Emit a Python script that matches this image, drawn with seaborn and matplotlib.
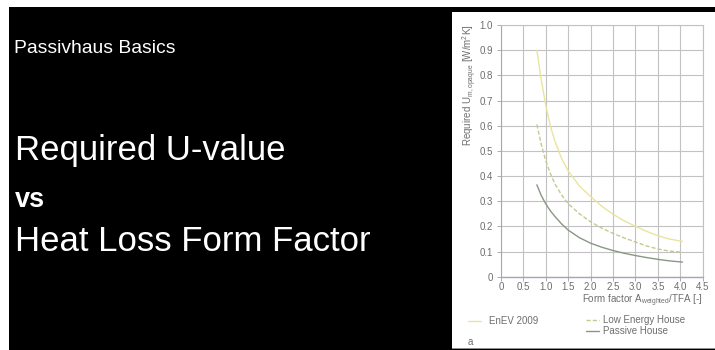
import matplotlib
matplotlib.use("Agg")
import matplotlib.pyplot as plt
import numpy as np
import pandas as pd
import seaborn as sns
from matplotlib.patches import Rectangle

# Required U-value of the opaque envelope against the heat loss form factor
form_factor = [0.8, 0.9, 1.0, 1.1, 1.2, 1.35, 1.5, 1.75, 2.0, 2.25, 2.5, 2.75, 3.0, 3.25, 3.5, 3.75, 4.05]
u_enev = [0.90, 0.78, 0.68, 0.60, 0.54, 0.47, 0.42, 0.36, 0.318, 0.28, 0.248, 0.222, 0.200, 0.180, 0.163, 0.150, 0.140]
u_low_energy = [0.605, 0.525, 0.46, 0.41, 0.37, 0.325, 0.29, 0.25, 0.218, 0.193, 0.172, 0.154, 0.138, 0.122, 0.110, 0.102, 0.097]
u_passive = [0.365, 0.322, 0.289, 0.262, 0.24, 0.21, 0.185, 0.155, 0.133, 0.117, 0.104, 0.093, 0.084, 0.076, 0.069, 0.063, 0.058]
series_names = ["EnEV 2009", "Low Energy House", "Passive House"]

x_ticks = [0, 0.5, 1.0, 1.5, 2.0, 2.5, 3.0, 3.5, 4.0, 4.5]
x_tick_labels = ["0", "0.5", "1.0", "1.5", "2.0", "2.5", "3.0", "3.5", "4.0", "4.5"]
y_ticks = [0, 0.1, 0.2, 0.3, 0.4, 0.5, 0.6, 0.7, 0.8, 0.9, 1.0]
y_tick_labels = ["0", "0.1", "0.2", "0.3", "0.4", "0.5", "0.6", "0.7", "0.8", "0.9", "1.0"]

df = pd.DataFrame({
    "form_factor": form_factor * 3,
    "u_value": u_enev + u_low_energy + u_passive,
    "standard": [series_names[0]] * len(form_factor)
    + [series_names[1]] * len(form_factor)
    + [series_names[2]] * len(form_factor),
})

sns.set_style("white")
plt.rcParams["font.family"] = ["Liberation Sans", "DejaVu Sans"]
plt.rcParams["mathtext.default"] = "regular"

W, H = 715, 350
fig = plt.figure(figsize=(W / 100, H / 100), dpi=100)
fig.patch.set_facecolor("white")


def fx(px):
    return px / W


def fy(py):
    return 1 - py / H


# slide background and the white figure panel
fig.patches.append(Rectangle((fx(9), 0), 1 - fx(9), fy(7), transform=fig.transFigure,
                             facecolor="black", edgecolor="none", zorder=-10))
fig.patches.append(Rectangle((fx(452), fy(347.5)), 1 - fx(452), fy(12) - fy(347.5),
                             transform=fig.transFigure, facecolor="white", edgecolor="none", zorder=-9))
fig.patches.append(Rectangle((fx(452), fy(349)), 1 - fx(452), fy(347.5) - fy(349),
                             transform=fig.transFigure, facecolor="#8e8e8e", edgecolor="none", zorder=-9))

# slide titles
fig.text(fx(14), fy(53), "Passivhaus Basics", color="white", fontsize=13.9, va="baseline", ha="left")
fig.text(fx(15), fy(160), "Required U-value", color="white", fontsize=25, va="baseline", ha="left")
fig.text(fx(15), fy(207), "vs", color="white", fontsize=19.5, fontweight="bold", va="baseline", ha="left")
fig.text(fx(15), fy(251), "Heat Loss Form Factor", color="white", fontsize=25, va="baseline", ha="left")

ax = fig.add_axes([fx(501), fy(276.7), fx(702.7) - fx(501), fy(25) - fy(276.7)])
ax.set_facecolor("none")

palette = {series_names[0]: "#e9e59c", series_names[1]: "#c6c98e", series_names[2]: "#889884"}
dashes = {series_names[0]: "", series_names[1]: (3, 1.5), series_names[2]: ""}
sns.lineplot(data=df, x="form_factor", y="u_value", hue="standard", style="standard",
             palette=palette, dashes=dashes, linewidth=1.0, ax=ax, legend=False, zorder=3)

ax.set_xlim(0, 4.5)
ax.set_ylim(0, 1.0)
ax.set_xticks(x_ticks)
ax.set_xticklabels(x_tick_labels)
ax.set_yticks(y_ticks)
ax.set_yticklabels(y_tick_labels)
ax.grid(True, color="#c2c2c2", linewidth=0.8)
ax.tick_params(axis="both", length=3, width=0.6, color="#a0a0a0", labelsize=7,
               labelcolor="#6e6e6e", bottom=True, left=True)
ax.tick_params(axis="y", pad=3)
ax.tick_params(axis="x", pad=1)
for side in ["top", "right"]:
    ax.spines[side].set_color("#c2c2c2")
    ax.spines[side].set_linewidth(0.8)
ax.spines["left"].set_color("#a8a8a8")
ax.spines["left"].set_linewidth(0.8)
ax.spines["bottom"].set_color("#a6a3bd")
ax.spines["bottom"].set_linewidth(1.0)
ax.set_xlabel("")
ax.set_ylabel("")

fig.text(fx(470), fy(24), "Required U$_{m,opaque}$ [W/m$^2$K]", rotation=90, ha="center", va="top",
         fontsize=7, color="#6e6e6e")
fig.text(fx(703), fy(303.5), "Form factor A$_{weighted}$/TFA [-]", ha="right", va="baseline",
         fontsize=7, color="#6e6e6e")

# legend in two groups below the plot
lines = {name: line for name, line in zip(series_names, ax.get_lines())}
leg1 = fig.legend([lines[series_names[0]]], [series_names[0]], loc="center left",
                  bbox_to_anchor=(fx(468), fy(321)), frameon=False, fontsize=7,
                  handlelength=1.3, handletextpad=0.9, labelcolor="#6e6e6e", borderaxespad=0,
                  borderpad=0)
leg2 = fig.legend([lines[series_names[1]], lines[series_names[2]]], series_names[1:],
                  loc="upper left", bbox_to_anchor=(fx(586), fy(315)), frameon=False, fontsize=7,
                  handlelength=1.3, handletextpad=0.45, labelspacing=0.1, labelcolor="#6e6e6e",
                  borderaxespad=0, borderpad=0)
fig.text(fx(468), fy(345), "a", fontsize=7, color="#6e6e6e", va="baseline")

fig.savefig("out.png", dpi=100, facecolor=fig.get_facecolor())
